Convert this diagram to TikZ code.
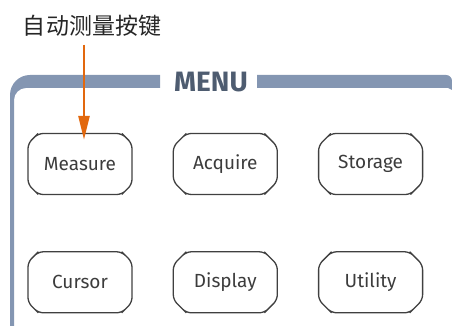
\documentclass[tikz,border=0pt]{standalone}
\usepackage{fontspec}
\setmainfont{Fira Sans}
\newfontfamily\cjkfont{Noto Sans CJK SC}
\usetikzlibrary{arrows.meta,
                positioning,
                shapes.misc}

\definecolor{menublue}{HTML}{8496B2}
\definecolor{menutext}{HTML}{4E5C70}
\definecolor{arroworange}{HTML}{E2680E}
\definecolor{keytext}{HTML}{3C3C3C}

\begin{document}
\begin{tikzpicture}[
        x=1pt, y=1pt,
        node distance=40pt,
        button/.style={chamfered rectangle, chamfered rectangle xsep=15pt, chamfered rectangle angle=45,
                       rounded corners=5pt, minimum width=104pt, minimum height=61pt, inner sep=0pt,
                       draw=black!75, line width=1.3pt, text=keytext, font=\fontsize{19}{22}\selectfont},
        title/.style={text=menutext, font=\fontsize{28}{30}\selectfont\bfseries, inner sep=0pt},
        callout/.style={font=\fontsize{23}{26}\selectfont\cjkfont, text=black!85, inner sep=0pt}
        ]
        \useasboundingbox (0,0) rectangle (452,326);

        % panel frame
        \fill [menublue] (160,251) -- (30,251) arc[start angle=90, end angle=180, radius=20]
              -- (10,0) -- (14,0) -- (14,226) arc[start angle=180, end angle=90, radius=12]
              -- (160,238) -- cycle;
        \fill [menublue] (257,251) -- (446,251) arc[start angle=90, end angle=0, radius=6]
              -- (452,236) -- (448,238) -- (257,238) -- cycle;
        \node (menu) [title] at (211,244) {MENU};

        % keys
        \node (measure) [button] at (80,162)         {Measure};
        \node (acquire) [button, right=of measure]   {Acquire};
        \node (storage) [button, right=of acquire]   {Storage};
        \node (cursor)  [button, below=56pt of measure] {Cursor};
        \node (display) [button, right=of cursor]    {Display};
        \node (utility) [button, right=of display]   {Utility};

        % callout
        \node (label) [callout] at (92,300) {自动测量按键};
        \coordinate (tail) at (84,281);
        \coordinate (tip)  at ([xshift=4pt, yshift=-7pt]measure.north);
        \draw [arrows=-{Triangle[length=24pt, width=11pt]}, line width=2.5pt, draw=arroworange, fill=arroworange]
              (tail) -- (tail |- tip);

\end{tikzpicture}
\end{document}
